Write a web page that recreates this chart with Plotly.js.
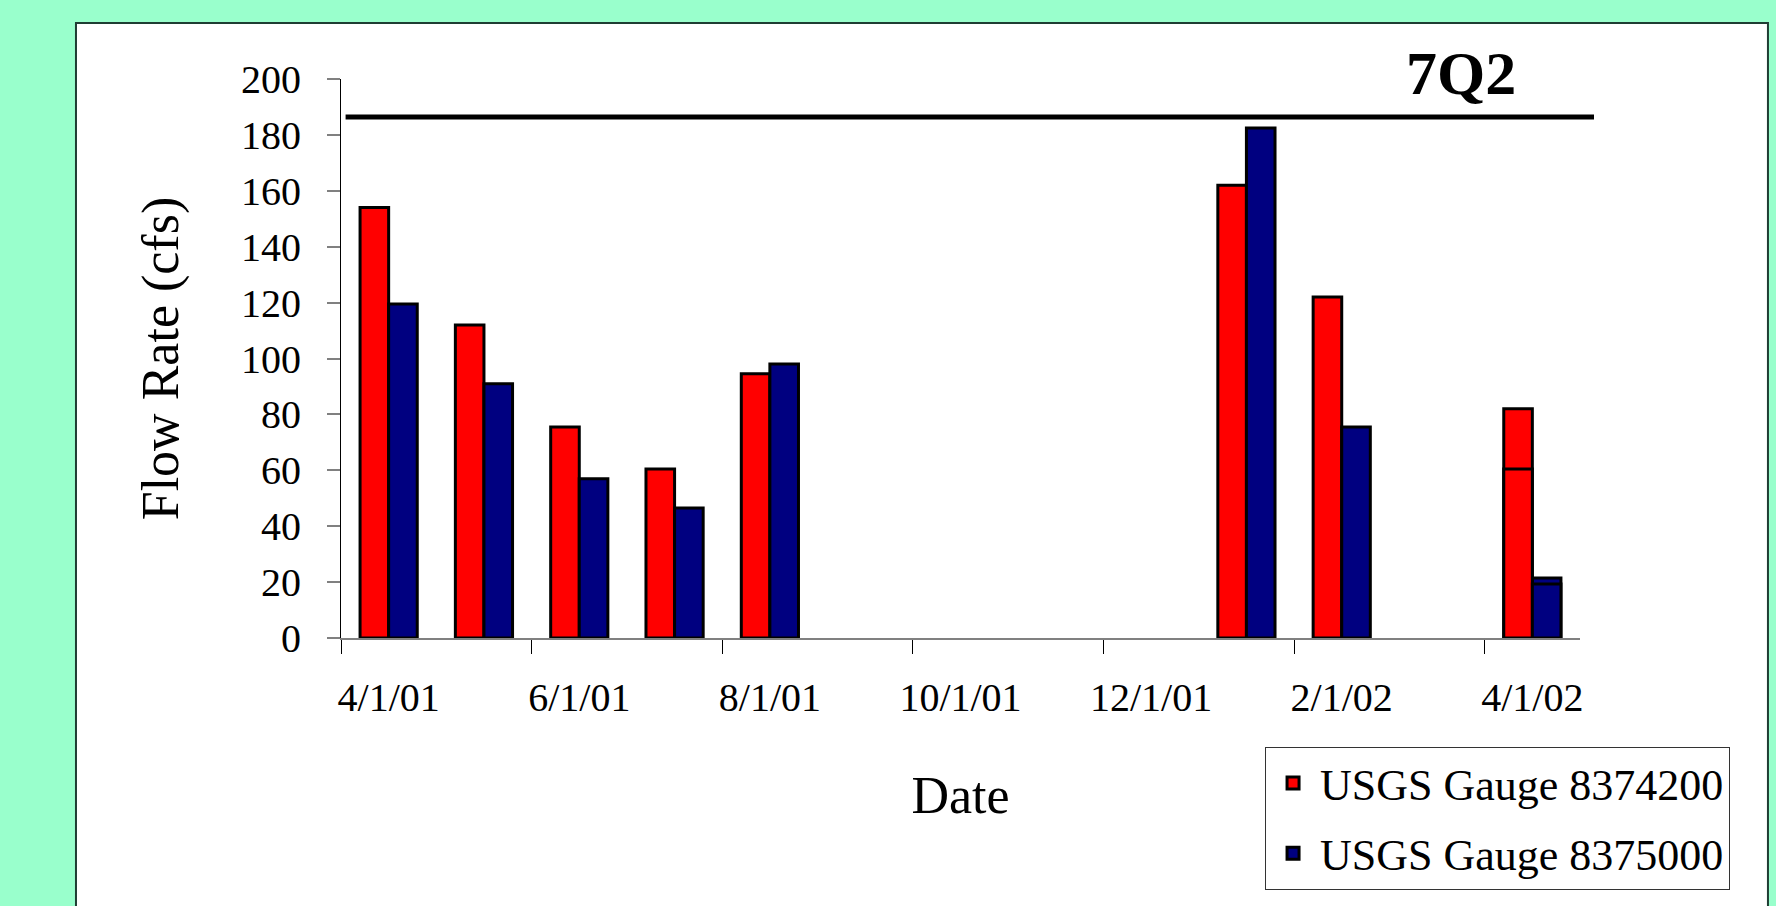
<!DOCTYPE html>
<html>
<head>
<meta charset="utf-8">
<script src="https://cdn.plot.ly/plotly-3.0.1.min.js"></script>
<style>
  html, body { margin: 0; padding: 0; background: #99FFCC; }
  #chart { width: 1776px; height: 906px; }
</style>
</head>
<body>
<div id="chart"></div>
<script>
// ---- data ----
const months = ["4/1/01","5/1/01","6/1/01","7/1/01","8/1/01","9/1/01","10/1/01","11/1/01","12/1/01","1/1/02","2/1/02","3/1/02","4/1/02"];
const sampleDates = ["4/1/01","5/1/01","6/1/01","7/1/01","8/1/01","1/1/02","2/1/02","4/1/02"];
const gauge8374200 = [154, 112, 75.5, 60.5, 94.5, 162, 122, 82];
const gauge8375000 = [119.5, 91, 57, 46.5, 98, 182.5, 75.5, 21.5];
const extraDates = ["4/1/02"];
const gauge8374200Extra = [60.5];
const gauge8375000Extra = [19.3];
const sevenQ2 = 186.4;
const seriesNames = ["USGS Gauge 8374200", "USGS Gauge 8375000"];

const FONT = "Liberation Serif, Times New Roman, serif";
const RED = "#FF0000", NAVY = "#000080";
const barLine = {color: "#000000", width: 3};

const traces = [
  {type: "scatter", x: months, y: months.map(() => null), mode: "markers",
   showlegend: false, hoverinfo: "skip"},
  {type: "bar", name: seriesNames[0], x: sampleDates, y: gauge8374200,
   width: 0.3, offset: -0.3, legendgroup: "a",
   marker: {color: RED, line: barLine}},
  {type: "bar", name: seriesNames[1], x: sampleDates, y: gauge8375000,
   width: 0.3, offset: 0, legendgroup: "b",
   marker: {color: NAVY, line: barLine}},
  {type: "bar", name: seriesNames[0], x: extraDates, y: gauge8374200Extra,
   width: 0.3, offset: -0.3, showlegend: false,
   marker: {color: RED, line: barLine}},
  {type: "bar", name: seriesNames[1], x: extraDates, y: gauge8375000Extra,
   width: 0.3, offset: 0, showlegend: false,
   marker: {color: NAVY, line: barLine}}
];

const layout = {
  width: 1776, height: 906,
  margin: {l: 341, r: 196, t: 79, b: 268, autoexpand: false},
  paper_bgcolor: "#99FFCC",
  plot_bgcolor: "rgba(0,0,0,0)",
  barmode: "overlay",
  font: {family: FONT, color: "#000"},
  showlegend: true,
  legend: {
    x: 0.7458, xanchor: "left", y: -0.195, yanchor: "top",
    bgcolor: "#FFFFFF", bordercolor: "#333333", borderwidth: 1,
    font: {family: FONT, size: 44, color: "#000"},
    traceorder: "grouped", tracegroupgap: 10, itemwidth: 44
  },
  xaxis: {
    type: "category", categoryorder: "array", categoryarray: months,
    range: [-0.5, 12.5], tickmode: "linear", tick0: 0, dtick: 2,
    tickson: "boundaries", ticks: "outside", ticklen: 14, tickcolor: "#000", tickwidth: 1,
    tickangle: 0, ticklabelstandoff: 23,
    showline: true, linecolor: "#808080", linewidth: 2,
    showgrid: false, zeroline: false,
    tickfont: {family: FONT, size: 40, color: "#000"},
    title: {text: "Date", font: {family: FONT, size: 52, color: "#000"}, standoff: 58}
  },
  yaxis: {
    range: [0, 200], tickmode: "linear", tick0: 0, dtick: 20,
    ticks: "outside", ticklen: 13, tickcolor: "#808080", tickwidth: 2,
    showline: true, linecolor: "#000", linewidth: 1,
    showgrid: false, zeroline: false,
    ticklabelstandoff: 18,
    tickfont: {family: FONT, size: 40, color: "#000"},
    title: {text: "Flow Rate (cfs)", font: {family: FONT, size: 52, color: "#000"}, standoff: 45}
  },
  shapes: [
    {type: "rect", xref: "paper", yref: "paper", x0: -0.2139, x1: 1.1517, y0: -1, y1: 1.1001,
     fillcolor: "#FFFFFF", line: {color: "#1f3d33", width: 2}, layer: "below"},
    {type: "line", xref: "paper", yref: "y", x0: 0.0037, x1: 1.0113, y0: sevenQ2, y1: sevenQ2,
     line: {color: "#000", width: 5}}
  ],
  annotations: [
    {text: "<b>7Q2</b>", xref: "paper", yref: "paper", x: 0.904, y: 1.0102,
     xanchor: "center", yanchor: "middle", showarrow: false,
     font: {family: FONT, size: 62, color: "#000"}}
  ]
};

Plotly.newPlot("chart", traces, layout, {displayModeBar: false, staticPlot: true});
</script>
</body>
</html>
